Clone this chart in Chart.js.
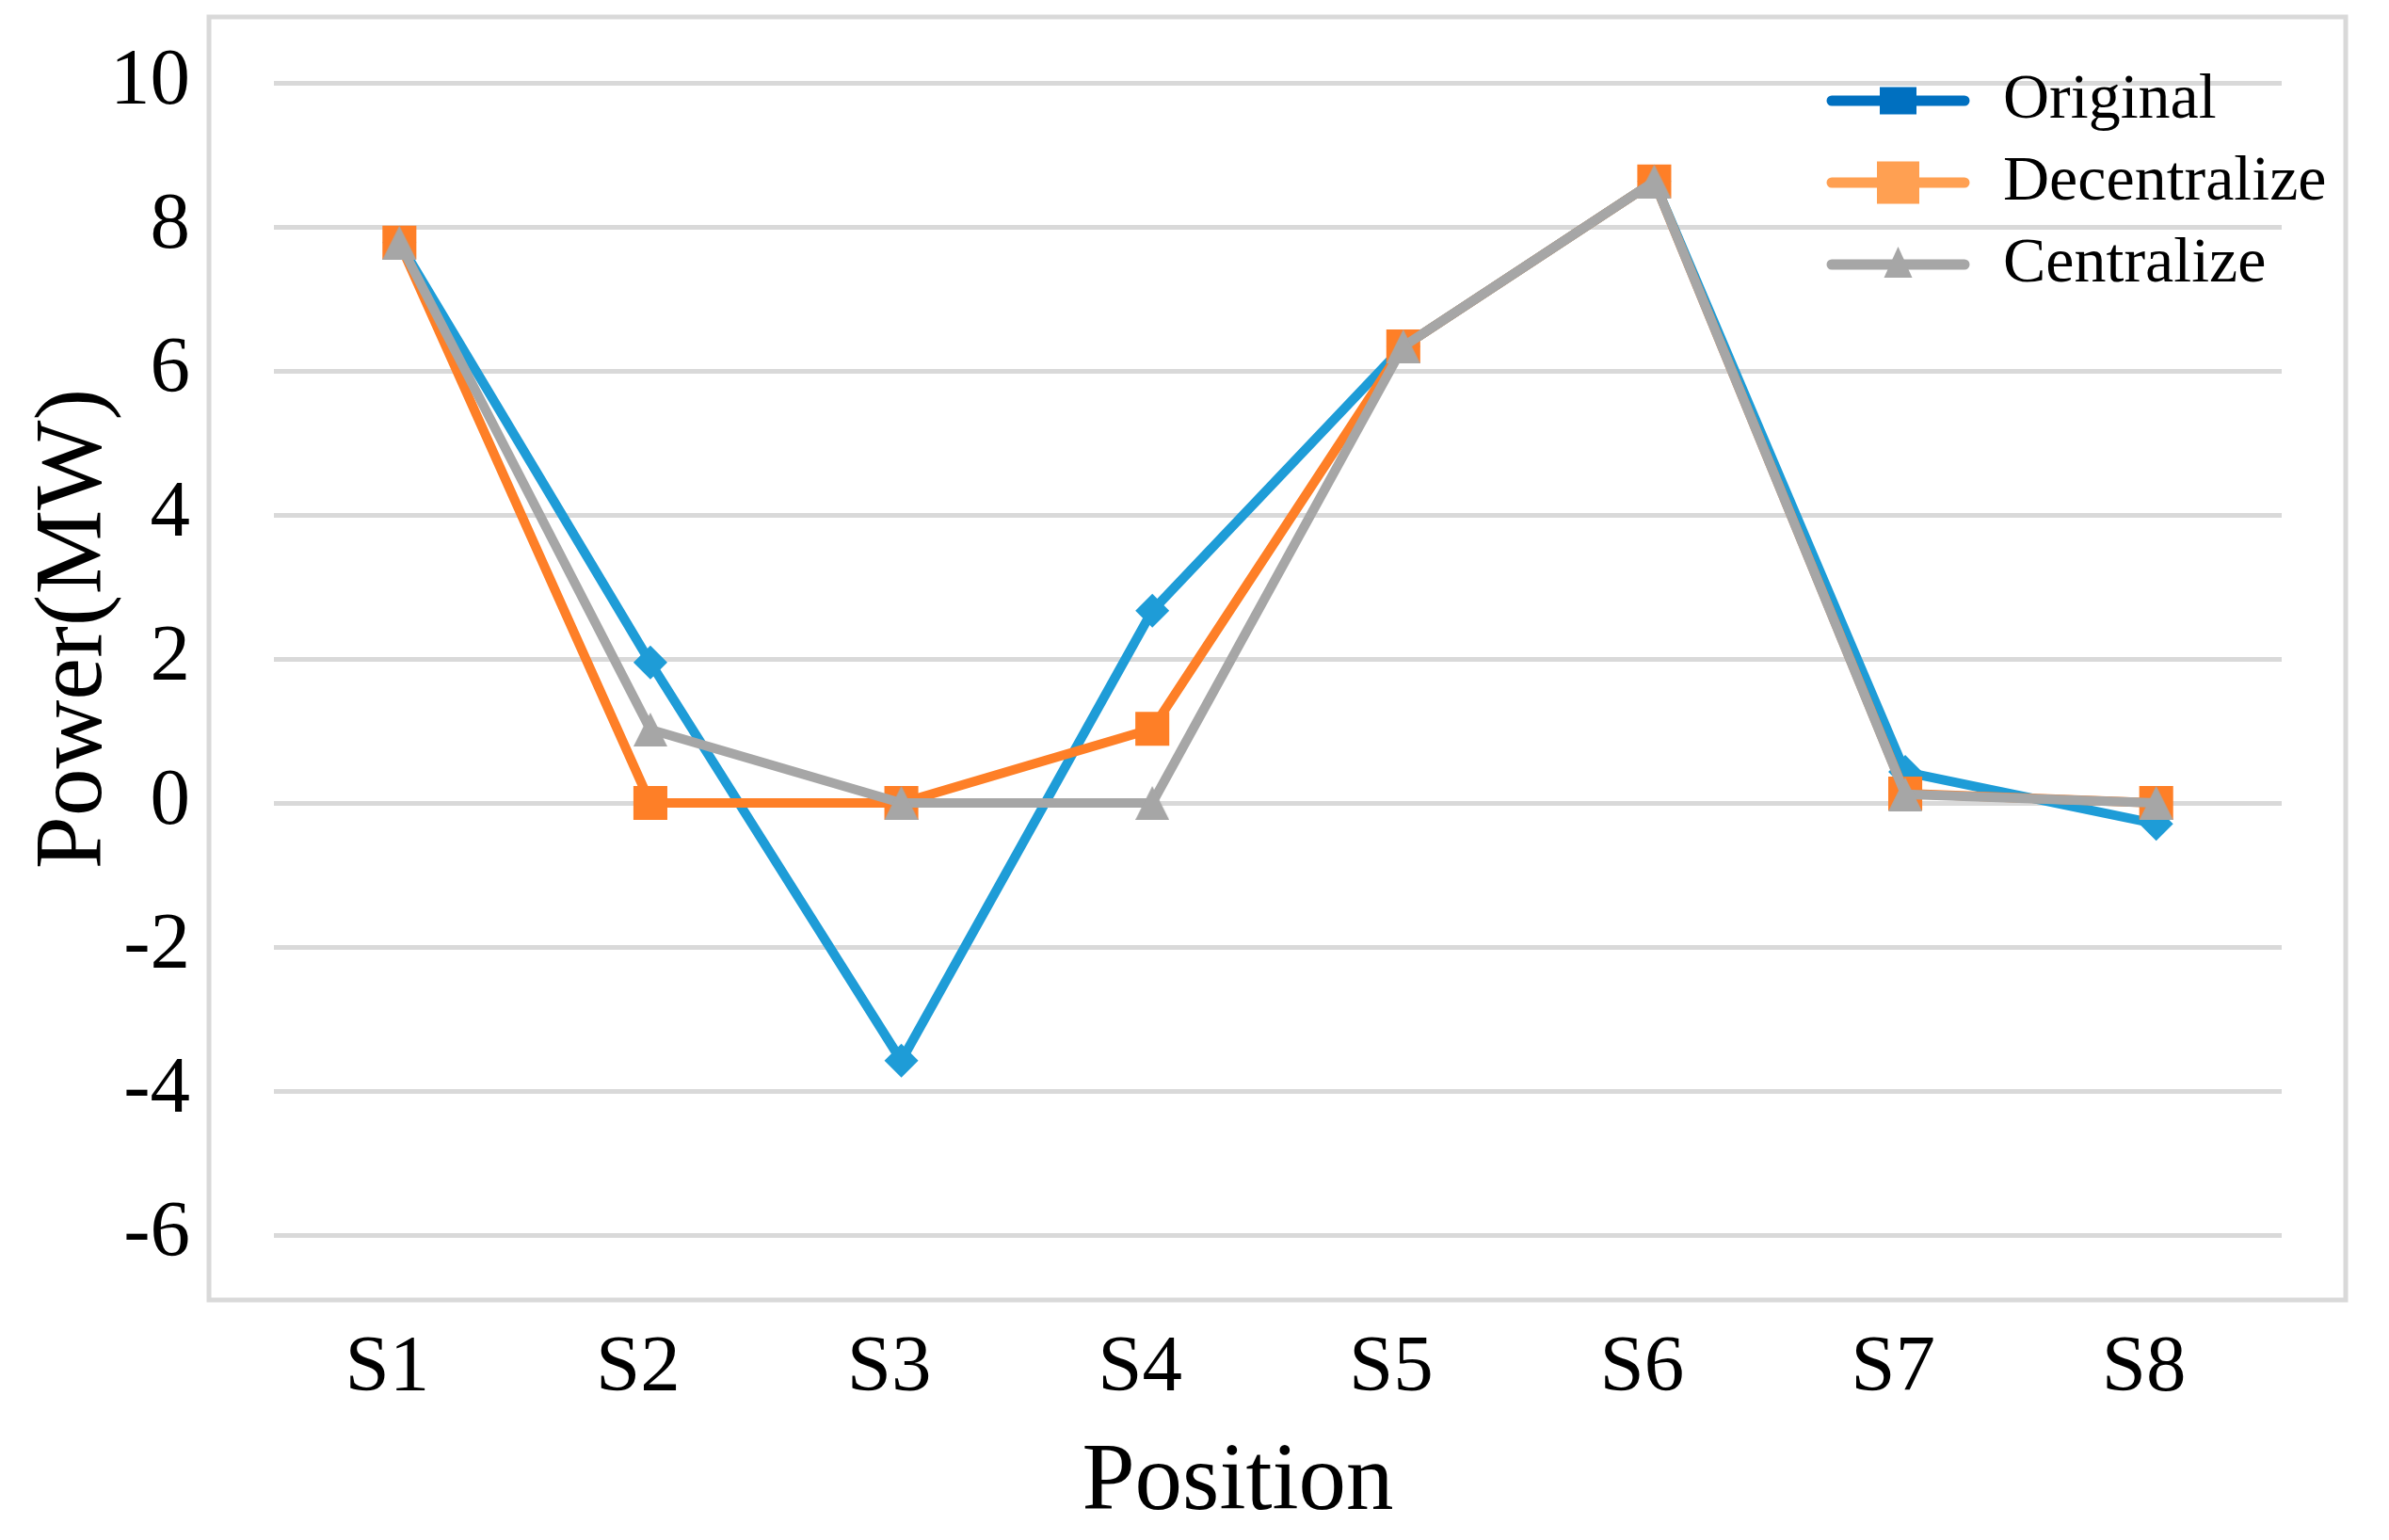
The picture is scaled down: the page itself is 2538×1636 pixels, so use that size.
<!DOCTYPE html>
<html>
<head>
<meta charset="utf-8">
<title>Power by position</title>
<script src="https://cdn.jsdelivr.net/npm/chart.js@4.4.1/dist/chart.umd.min.js"></script>
<style>
  html, body { margin: 0; padding: 0; background: #fff; }
  #wrap { width: 2538px; height: 1636px; }
</style>
</head>
<body>
<div id="wrap"><canvas id="myChart" width="2538" height="1636"></canvas></div>
<script>
// values (MW)
const positions = ['S1', 'S2', 'S3', 'S4', 'S5', 'S6', 'S7', 'S8'];
const original = [7.78, 1.95, -3.58, 2.67, 6.34, 8.63, 0.43, -0.29];
const decentralize = [7.78, 0, 0, 1.03, 6.34, 8.63, 0.13, 0];
const centralize = [7.78, 1.02, 0, 0, 6.34, 8.63, 0.12, 0];
const yMin = -6, yMax = 10, yStep = 2;
const xTitle = 'Position';
const yTitle = 'Power(MW)';

const serif = '"Liberation Serif", "Times New Roman", serif';

// Excel style triangle marker (apex top, centred in its box)
function triangleMarker(size, color) {
    const c = document.createElement('canvas');
    c.width = size; c.height = size;
    const g = c.getContext('2d');
    g.fillStyle = color;
    g.beginPath();
    g.moveTo(size / 2, 0);
    g.lineTo(size, size);
    g.lineTo(0, size);
    g.closePath();
    g.fill();
    return c;
}

// light grey frame around the plot area
const frame = {
    id: 'frame',
    beforeDraw(chart) {
        const {ctx, chartArea: a} = chart;
        ctx.save();
        ctx.fillStyle = '#fff';
        ctx.fillRect(0, 0, chart.width, chart.height);
        ctx.strokeStyle = '#d9d9d9';
        ctx.lineWidth = 5;
        ctx.strokeRect(a.left - 69, a.top - 70, a.right - a.left + 137, a.bottom - a.top + 139);
        ctx.restore();
    }
};

// axis titles, placed like in the Excel original (not quite centred)
const axisTitles = {
    id: 'axisTitles',
    afterDraw(chart) {
        const {ctx, chartArea: a} = chart;
        ctx.save();
        ctx.fillStyle = '#000';
        ctx.font = '101px ' + serif;
        ctx.textAlign = 'center';
        ctx.textBaseline = 'alphabetic';
        ctx.fillText(xTitle, a.left + 1024, a.bottom + 291);
        ctx.translate(107, a.top + 580);
        ctx.rotate(-Math.PI / 2);
        ctx.fillText(yTitle, 0, 0);
        ctx.restore();
    }
};

// legend drawn inside the plot, top right, line + marker like Excel
const insideLegend = {
    id: 'insideLegend',
    afterDatasetsDraw(chart) {
        const {ctx, chartArea: a} = chart;
        const x0 = a.right - 478, x1 = a.right - 337, textX = a.right - 296;
        ctx.save();
        chart.data.datasets.forEach((ds, i) => {
            const y = a.top + 19 + i * 87;
            const c = ds.legendColor;
            ctx.strokeStyle = c;
            ctx.lineWidth = 11;
            ctx.lineCap = 'round';
            ctx.beginPath();
            ctx.moveTo(x0, y);
            ctx.lineTo(x1, y);
            ctx.stroke();
            const mx = (x0 + x1) / 2;
            ctx.fillStyle = c;
            if (ds.legendMarker === 'triangle') {
                const s = 30;
                ctx.beginPath();
                ctx.moveTo(mx, y - 19);
                ctx.lineTo(mx + s / 2, y + 14);
                ctx.lineTo(mx - s / 2, y + 14);
                ctx.closePath();
                ctx.fill();
            } else {
                const w = ds.legendMarkerW, h = ds.legendMarkerH;
                ctx.fillRect(mx - w / 2, y - h / 2, w, h);
            }
            ctx.fillStyle = '#000';
            ctx.font = '68px ' + serif;
            ctx.textBaseline = 'middle';
            ctx.textAlign = 'left';
            ctx.fillText(ds.label, textX, y);
        });
        ctx.restore();
    }
};

const ctx = document.getElementById('myChart');
const myChart = new Chart(ctx, {
    type: 'line',
    data: {
        labels: positions,
        datasets: [
            {
                label: 'Original',
                data: original,
                borderColor: '#1e9cd7',
                backgroundColor: '#1e9cd7',
                borderWidth: 10,
                pointStyle: 'rectRot',
                pointRadius: 18,
                pointBorderWidth: 0,
                order: 3,
                legendColor: '#0070c0',
                legendMarkerW: 39,
                legendMarkerH: 29
            },
            {
                label: 'Decentralize',
                data: decentralize,
                borderColor: '#fe7f27',
                backgroundColor: '#fe7f27',
                borderWidth: 10,
                pointStyle: 'rect',
                pointRadius: 25.5,
                pointBorderWidth: 0,
                order: 2,
                legendColor: '#ffa052',
                legendMarkerW: 45,
                legendMarkerH: 45
            },
            {
                label: 'Centralize',
                data: centralize,
                borderColor: '#a6a6a6',
                backgroundColor: '#a6a6a6',
                borderWidth: 10,
                pointStyle: triangleMarker(36, '#a6a6a6'),
                pointRadius: 18,
                pointBorderWidth: 0,
                order: 1,
                legendColor: '#a6a6a6',
                legendMarker: 'triangle'
            }
        ]
    },
    options: {
        responsive: false,
        devicePixelRatio: 1,
        animation: false,
        layout: { padding: { left: 0, top: 88, right: 114, bottom: 0 } },
        plugins: {
            legend: { display: false },
            tooltip: { enabled: false }
        },
        scales: {
            x: {
                offset: true,
                grid: { display: false },
                border: { display: false },
                ticks: {
                    color: '#000',
                    font: { family: serif, size: 85 },
                    padding: 84,
                    labelOffset: -13,
                    maxRotation: 0
                },
                afterFit(scale) {
                    scale.height = 324;
                    scale.paddingLeft = 0;
                    scale.paddingRight = 0;
                }
            },
            y: {
                min: yMin,
                max: yMax,
                ticks: {
                    stepSize: yStep,
                    color: '#000',
                    font: { family: serif, size: 85 },
                    padding: 89
                },
                grid: { color: '#d9d9d9', lineWidth: 5, drawTicks: false },
                border: { display: false },
                afterFit(scale) {
                    scale.width = 291;
                    scale.paddingTop = 0;
                    scale.paddingBottom = 0;
                }
            }
        }
    },
    plugins: [frame, axisTitles, insideLegend]
});
</script>
</body>
</html>
